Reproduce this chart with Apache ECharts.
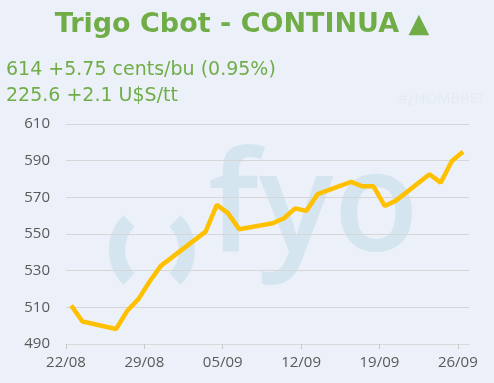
<!DOCTYPE html>
<html>
<head>
<meta charset="utf-8">
<script src="https://cdn.jsdelivr.net/npm/echarts@6/dist/echarts.min.js"></script>
<style>
html,body{margin:0;padding:0;background:#ecf1f9;}
#chart{width:494px;height:383px;}
</style>
</head>
<body>
<div id="chart"></div>
<script>
// ---- Data ----
var titleText = 'Trigo Cbot - CONTINUA \u25B2';
var priceLine1 = '614 +5.75 cents/bu (0.95%)';
var priceLine2 = '225.6 +2.1 U$S/tt';
var startDate = '2019-08-22';
var dates = ['2019-08-22','2019-08-23','2019-08-26','2019-08-27','2019-08-28','2019-08-29','2019-08-30',
             '2019-09-03','2019-09-04','2019-09-05','2019-09-06','2019-09-09','2019-09-10','2019-09-11',
             '2019-09-12','2019-09-13','2019-09-16','2019-09-17','2019-09-18','2019-09-19','2019-09-20',
             '2019-09-23','2019-09-24','2019-09-25','2019-09-26'];
var prices = [511.0,502.3,498.2,508.1,514.5,524.1,532.6,
              551.3,565.9,561.4,552.6,555.9,558.6,564.0,
              562.6,571.7,578.4,576.0,576.0,565.3,568.2,
              582.6,578.0,589.8,594.9];
var tickDays = [0,7,14,21,28,35];   // 22/08 .. 26/09
var yTicks = [490,510,530,550,570,590,610];

// ---- helpers ----
var DAY = 86400000;
var t0 = Date.parse(startDate + 'T00:00:00Z');
var intraDay = 0.47; // data stamped within the day
function dayIndex(d){ return (Date.parse(d + 'T00:00:00Z') - t0) / DAY + intraDay; }
function dayLabel(v){
  var dt = new Date(t0 + v * DAY);
  var dd = String(dt.getUTCDate()).padStart(2,'0');
  var mm = String(dt.getUTCMonth()+1).padStart(2,'0');
  return dd + '/' + mm;
}
var seriesData = dates.map(function(d,i){ return [dayIndex(d), prices[i]]; });

var green = '#70ad47';
var wm = '#d5e5f0';
var chart = echarts.init(document.getElementById('chart'), null, {renderer:'canvas'});
chart.setOption({
  backgroundColor: '#ecf1f9',
  animation: false,
  grid: {left: 66, right: 25, top: 124, bottom: 39, containLabel: false},
  xAxis: {
    type: 'value', min: 0, max: 36, interval: 7,
    axisLine: {show: true, lineStyle: {color: '#d9d9d9', width: 1}},
    axisTick: {show: true, length: 5, lineStyle: {color: '#c8c8c8'}, customValues: tickDays},
    axisLabel: {customValues: tickDays, formatter: function(v){ return dayLabel(v); },
      color: '#595959', fontSize: 15, fontFamily: 'Open Sans', margin: 11},
    splitLine: {show: false}
  },
  yAxis: {
    type: 'value', min: yTicks[0], max: yTicks[yTicks.length-1], interval: 20,
    axisLine: {show: false}, axisTick: {show: false},
    axisLabel: {color: '#595959', fontSize: 15, fontFamily: 'Open Sans', margin: 16},
    splitLine: {lineStyle: {color: '#d6d6d6', width: 1}}
  },
  graphic: [
    {type: 'text', x: 242, y: 11, z: 10,
      style: {text: titleText, fill: green, font: 'bold 27px "DejaVu Sans"', textAlign: 'center'}},
    {type: 'text', x: 6, y: 61, z: 10,
      style: {text: priceLine1, fill: green, font: '19px "DejaVu Sans"'}},
    {type: 'text', x: 6, y: 87, z: 10,
      style: {text: priceLine2, fill: green, font: '19px "DejaVu Sans"'}},
    {type: 'text', x: 398, y: 91, z: -5,
      style: {text: '#\u00BFNOMBRE?', fill: '#e5eaf2', font: '15px "Open Sans"'}},
    {type: 'text', x: 208, y: 141, z: -20, silent: true,
      style: {text: 'fyo', fill: wm, font: '600 140px "Open Sans"'}},
    {type: 'arc', z: -20, silent: true,
      shape: {cx: 158, cy: 250, r: 41, startAngle: Math.PI*0.75, endAngle: Math.PI*1.25},
      style: {stroke: wm, lineWidth: 16, fill: null, lineCap: 'butt'}},
    {type: 'arc', z: -20, silent: true,
      shape: {cx: 146, cy: 250, r: 41, startAngle: -Math.PI*0.25, endAngle: Math.PI*0.25},
      style: {stroke: wm, lineWidth: 16, fill: null, lineCap: 'butt'}}
  ],
  series: [{
    type: 'line', data: seriesData, showSymbol: false, symbol: 'none',
    lineStyle: {color: '#ffc000', width: 4.5}, z: 5
  }]
});
</script>
</body>
</html>
